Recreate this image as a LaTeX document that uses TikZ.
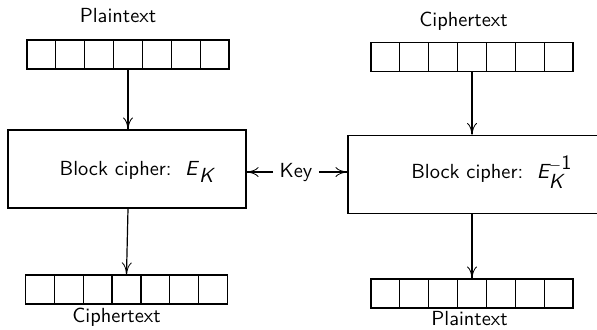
\documentclass[tikz,border=0pt]{standalone}
\usetikzlibrary{arrows.meta,calc}
\begin{document}
\begin{tikzpicture}[x=0.5pt,y=-0.5pt,
  font=\sffamily\fontsize{10.2}{12}\selectfont,
  line width=0.6pt,
  arr/.style={-{To[length=6pt,width=5pt,line width=0.4pt]}},
  register/.style={draw,minimum width=101pt,minimum height=14.5pt,inner sep=0pt,
    path picture={\foreach \i in {1,...,6}{
      \draw ($(path picture bounding box.north west)!\i/7!(path picture bounding box.north east)$)
         -- ($(path picture bounding box.south west)!\i/7!(path picture bounding box.south east)$);}}},
  cipherbox/.style={draw,minimum height=39pt,inner sep=0pt},
  lbl/.style={inner sep=0pt}]
\useasboundingbox (0,0) rectangle (597,329);

% encryption side
\node[lbl] (ptoplbl) at (118,16) {Plaintext};
\node[register] (ptop) at (128,54.5) {};
\node[cipherbox,minimum width=119pt] (boxE) at (127,169) {};
\node[lbl] (boxEtxt) at (137,172) {Block cipher:\ \ \textit{E}$_{\textit{K}}$};
\node[register] (cbot) at (126.5,289.5) {};
\node[lbl] (cbotlbl) at (116.5,317) {Ciphertext};

% shared key
\node[lbl] (key) at (296,172) {Key};

% decryption side
\node[lbl] (ctoplbl) at (463.5,21) {Ciphertext};
\node[register] (ctop) at (472,57) {};
\node[cipherbox,minimum width=130pt] (boxD) at (478,174.5) {};
\node[lbl] (boxDtxt) at (492,172) {Block cipher:\ \ $\textit{E}_{\textit{K}}^{-\textup{1}}$};
\node[register] (pbot) at (472,293.5) {};
\node[lbl] (pbotlbl) at (469.5,319) {Plaintext};

% data flow
\draw[arr] (ptop.south) -- (ptop.south |- boxE.north);
\draw[arr] (ptop.south |- boxE.south) -- (cbot.north);
\draw[arr] (ctop.south) -- (ctop.south |- boxD.north);
\draw[arr] (ctop.south |- boxD.south) -- (pbot.north);
\draw[arr] ([xshift=-3pt]key.west) -- (boxE.east |- key);
\draw[arr] ([xshift=3pt]key.east) -- (boxD.west |- key);
\end{tikzpicture}
\end{document}
